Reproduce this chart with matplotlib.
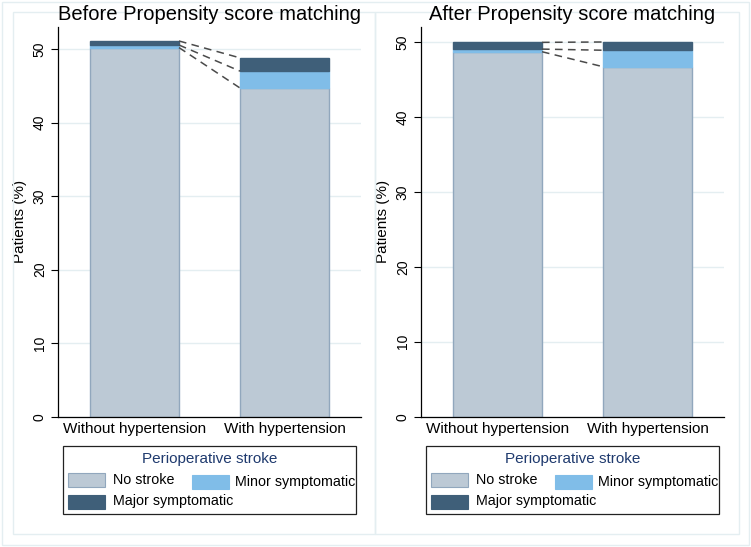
import matplotlib.pyplot as plt
import numpy as np
from matplotlib.patches import Rectangle

plt.rcParams['font.family'] = ['Liberation Sans', 'DejaVu Sans']

groups = ['Without hypertension', 'With hypertension']
series = ['No stroke', 'Minor symptomatic', 'Major symptomatic']
titles = ['Before Propensity score matching', 'After Propensity score matching']

# percentages (stacked), per panel: one list per series, one value per group
before_no = [50.2, 44.7]
before_minor = [0.35, 2.3]
before_major = [0.55, 1.8]
after_no = [48.7, 46.7]
after_minor = [0.35, 2.2]
after_major = [0.9, 1.1]
ylims = [53, 52]
yticks = [0, 10, 20, 30, 40, 50]

colors = ['#bcc9d5', '#80bde8', '#3f5f79']
edge = '#91a7bd'
frame_col = '#e4eef1'
W, H = 751, 547


def fx(px):
    return px / W


def fy(py):
    return 1 - py / H


fig = plt.figure(figsize=(W / 100, H / 100), dpi=100)
fig.patch.set_facecolor('white')

# light frames (outer and per-panel)
fig.add_artist(Rectangle((fx(2), fy(545)), fx(747), 543 / H, transform=fig.transFigure,
                         fill=False, ec=frame_col, lw=1))
for x0, x1 in [(13, 375), (375, 739)]:
    fig.add_artist(Rectangle((fx(x0), fy(534)), fx(x1 - x0), 522 / H, transform=fig.transFigure,
                             fill=False, ec=frame_col, lw=1))

panels = [(before_no, before_minor, before_major), (after_no, after_minor, after_major)]
x = np.arange(len(groups))
bw = 0.593

for i, (vals, title, ylim) in enumerate(zip(panels, titles, ylims)):
    dx = 363 * i
    ax = fig.add_axes([fx(58 + dx), fy(416.7), fx(303), 389.7 / H])
    bottom = np.zeros(len(groups))
    tops = []
    for s, v in enumerate(vals):
        v = np.array(v)
        ax.bar(x, v, bw, bottom=bottom, color=colors[s],
               edgecolor=edge if s == 0 else colors[s], lw=1, zorder=2)
        bottom = bottom + v
        tops.append(bottom.copy())
    # dashed connectors between stacked segment tops
    for t in tops:
        ax.plot([x[0] + bw / 2, x[1] - bw / 2], [t[0], t[1]], ls=(0, (5, 3.5)),
                color='#4a4a4a', lw=1.1, zorder=3)

    ax.set_xlim(-0.51, 1.51)
    ax.set_ylim(0, ylim)
    ax.set_yticks(yticks)
    ax.set_yticklabels([str(t) for t in yticks], rotation=90, va='center', fontsize=10)
    ax.set_xticks(x)
    ax.set_xticklabels(groups, fontsize=11)
    ax.tick_params(axis='x', length=0, pad=4)
    ax.tick_params(axis='y', length=5, width=0.8, pad=3)
    ax.grid(axis='y', color=frame_col, lw=1, zorder=0)
    ax.set_axisbelow(True)
    for sp in ['top', 'right']:
        ax.spines[sp].set_visible(False)
    for sp in ['left', 'bottom']:
        ax.spines[sp].set_linewidth(0.9)
    ax.set_ylabel('Patients (%)', fontsize=11, labelpad=4)
    fig.text(fx(209.5 + dx), fy(20), title, ha='center', va='baseline', fontsize=14.5)

    # manual Stata-style legend
    fig.add_artist(Rectangle((fx(63 + dx), fy(514)), fx(293), 68 / H, transform=fig.transFigure,
                             fill=False, ec='#222222', lw=0.9))
    fig.text(fx(209.5 + dx), fy(459), 'Perioperative stroke', ha='center', va='center',
             fontsize=11, color='#1f3a6e')
    entries = [(68, 473, 113, 480), (192, 475, 235, 482), (68, 495, 113, 501)]
    for s, (px, py, tx, ty) in enumerate(entries):
        fig.add_artist(Rectangle((fx(px + dx), fy(py + 14)), fx(37), 14 / H,
                                 transform=fig.transFigure, fc=colors[s],
                                 ec=edge if s == 0 else colors[s], lw=0.8))
        fig.text(fx(tx + dx), fy(ty), series[s], ha='left', va='center', fontsize=10.3)

fig.savefig('out.png', dpi=100)
